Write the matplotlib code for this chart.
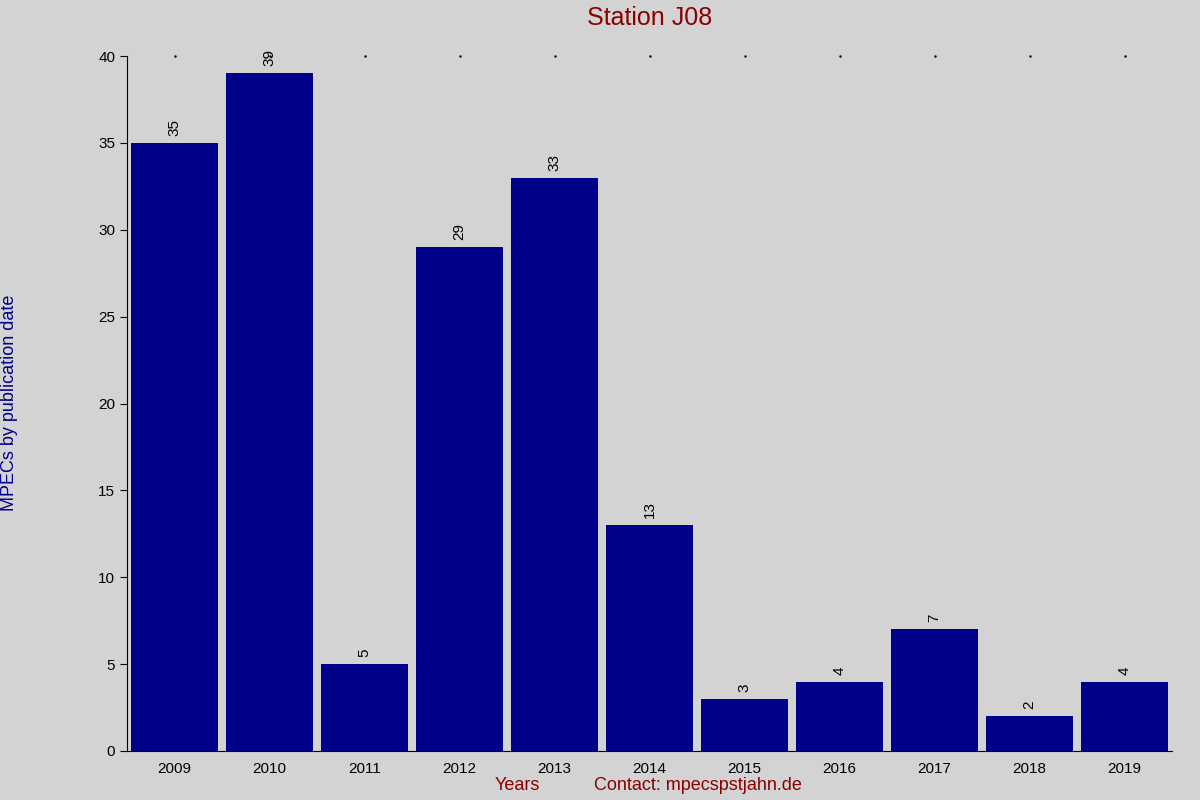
import matplotlib
matplotlib.use("Agg")
import matplotlib.pyplot as plt

years = ["2009","2010","2011","2012","2013","2014","2015","2016","2017","2018","2019"]
counts = [35, 39, 5, 29, 33, 13, 3, 4, 7, 2, 4]

plt.rcParams['font.family'] = ['Liberation Sans', 'DejaVu Sans']
fig = plt.figure(figsize=(12, 8), dpi=100, facecolor='#d3d3d3')
ax = fig.add_axes([127/1200, 1-751/800, (1172-127)/1200, (751-56)/800])
ax.set_facecolor('#d3d3d3')
x = list(range(len(years)))
ax.bar(x, counts, width=0.91, color='#00008b')
for xi, c in zip(x, counts):
    ax.text(xi, c + 0.4, str(c), rotation=90, ha='center', va='bottom', fontsize=11, color='black')
ax.set_xlim(-0.5, 10.5)
ax.set_ylim(0, 40)
ax.set_yticks(range(0, 41, 5))
ax.set_xticks(x)
ax.set_xticklabels(years)
ax.tick_params(axis='both', labelsize=11, direction='out', length=5)
ax.tick_params(axis='x', length=0, pad=8)
for s in ['top', 'right']:
    ax.spines[s].set_visible(False)
for xi in x:
    ax.plot(xi, 40, marker='.', markersize=1.5, color='black', clip_on=False)
fig.text(650/1200, 1-18/800, "Station J08", ha='center', va='center', fontsize=18, color='#8b0000')
fig.text(10/1200, 1-403/800, "MPECs by publication date", rotation=90, ha='center', va='center', fontsize=13, color='#00008b')
fig.text(517/1200, 1-786/800, "Years", ha='center', va='center', fontsize=13, color='#8b0000')
fig.text(698/1200, 1-786/800, "Contact: mpecspstjahn.de", ha='center', va='center', fontsize=13, color='#8b0000')
fig.savefig("out.png", dpi=100, facecolor=fig.get_facecolor())
